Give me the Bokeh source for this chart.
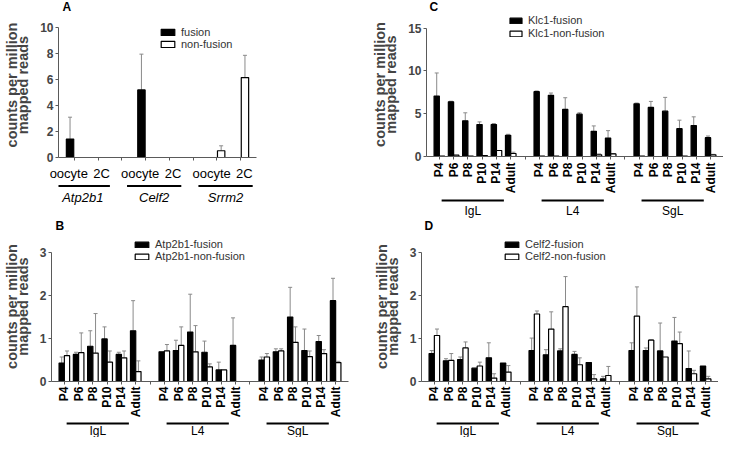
import math
from bokeh.plotting import figure
from bokeh.models import (ColumnDataSource, FactorRange, Range1d, FixedTicker,
                          Legend, LegendItem, Whisker, TeeHead, CustomJSTickFormatter)
from bokeh.transform import dodge
from bokeh.layouts import column, row
from bokeh.embed import file_html
from bokeh.resources import INLINE
from bokeh.core.properties import value

FONT = "Liberation Sans"
YLABEL = "counts per million\nmapped reads"

# ---------------- Panel A data ----------------
a_genes = ["Atp2b1", "Celf2", "Srrm2"]
a_stages = ["oocyte", "2C"]
a_fusion = [1.42, 0.0, 5.2, 0.0, 0.0, 0.0]
a_fusion_err = [3.1, 0.0, 7.95, 0.0, 0.0, 0.0]
a_nonfusion = [0.0, 0.0, 0.0, 0.0, 0.52, 6.15]
a_nonfusion_err = [0.0, 0.0, 0.0, 0.0, 0.9, 7.86]
a_yticks = [0, 2, 4, 6, 8, 10]

# ---------------- Panels B, C, D ----------------
regions = ["IgL", "L4", "SgL"]
ages = ["P4", "P6", "P8", "P10", "P14", "Adult"]

b_fusion = [0.43, 0.63, 0.82, 0.99, 0.63, 1.18,
            0.69, 0.72, 1.15, 0.68, 0.27, 0.84,
            0.50, 0.69, 1.50, 0.72, 0.93, 1.88]
b_fusion_err = [0.57, 0.68, 1.18, 1.27, 0.68, 1.88,
                0.69, 0.96, 2.03, 0.94, 0.45, 1.48,
                0.57, 0.76, 2.19, 1.22, 1.07, 2.40]
b_nonfusion = [0.60, 0.67, 0.66, 0.45, 0.55, 0.23,
               0.71, 0.84, 0.69, 0.34, 0.27, 0.00,
               0.57, 0.71, 0.91, 0.58, 0.65, 0.44]
b_nonfusion_err = [0.71, 1.13, 1.58, 0.71, 0.71, 0.48,
                   0.86, 1.27, 1.30, 0.41, 0.27, 0.00,
                   0.65, 0.76, 1.27, 0.71, 0.74, 0.47]
b_yticks = [0, 1, 2, 3]

c_fusion = [7.05, 6.39, 4.16, 3.73, 3.73, 2.47,
            7.57, 7.14, 5.49, 4.94, 2.94, 2.16,
            6.16, 5.73, 5.29, 3.25, 3.61, 2.20]
c_fusion_err = [9.75, 6.45, 5.10, 4.04, 3.85, 2.59,
                7.65, 7.41, 6.86, 5.10, 3.57, 3.02,
                6.24, 6.43, 6.90, 4.24, 4.63, 2.39]
c_nonfusion = [0.05, 0.15, 0.05, 0.10, 0.70, 0.35,
               0.05, 0.05, 0.00, 0.00, 0.20, 0.30,
               0.05, 0.00, 0.00, 0.05, 0.00, 0.20]
c_nonfusion_err = [0.05, 0.15, 0.05, 0.10, 0.70, 0.50,
                   0.05, 0.05, 0.00, 0.00, 0.30, 0.35,
                   0.05, 0.00, 0.00, 0.05, 0.00, 0.25]
c_yticks = [0, 5, 10, 15]

d_fusion = [0.65, 0.48, 0.51, 0.31, 0.55, 0.43,
            0.72, 0.62, 0.71, 0.63, 0.44, 0.06,
            0.72, 0.72, 0.71, 0.94, 0.30, 0.36]
d_fusion_err = [0.72, 0.53, 0.57, 0.31, 0.90, 0.43,
                1.01, 0.74, 0.76, 0.70, 0.44, 0.12,
                0.90, 0.78, 1.36, 1.49, 0.71, 0.36]
d_nonfusion = [1.07, 0.49, 0.78, 0.36, 0.08, 0.22,
               1.57, 1.22, 1.74, 0.39, 0.06, 0.14,
               1.52, 0.96, 0.57, 0.88, 0.18, 0.06]
d_nonfusion_err = [1.22, 0.65, 0.92, 0.45, 0.18, 0.37,
                   1.64, 1.62, 2.44, 0.55, 0.16, 0.35,
                   2.20, 0.97, 0.57, 1.15, 0.26, 0.12]
d_yticks = [0, 1, 2, 3]

AXIS_COLOR = "#5a5a5a"
ERR_COLOR = "#8a8a8a"
HEADER_H = 12

LABEL_JS = """
if (tick.startsWith('gap')) { return ''; }
var lab = tick.substring(tick.indexOf('|') + 1);
if (lab == 'oocyte') { return lab + '\\u00a0\\u00a0\\u00a0'; }
if (lab == '2C') { return '\\u00a0\\u00a0' + lab; }
return lab;
"""


def build_factors(groups, members):
    factors, keys = [], []
    for gi, g in enumerate(groups):
        if gi > 0:
            factors.append("gap%d" % gi)
        for m in members:
            k = "%s|%s" % (g, m)
            factors.append(k)
            keys.append(k)
    return factors, keys


def bare(fig):
    fig.outline_line_color = None
    fig.grid.grid_line_color = None
    fig.background_fill_color = "white"
    fig.border_fill_color = "white"


def panel(letter, groups, members, fus, fus_e, non, non_e, yticks, leg_labels,
          b_left, frame_w, b_right, pad, tick_top, zero_y, b_bottom, sub_h,
          bar_w, off, orient, tick_size, tick_style, tick_standoff,
          leg_loc, glyph_w, glyph_h, leg_spacing,
          line_offs, text_off, text_member, line_px, text_px, grp_size, grp_style, letter_pad):
    # tick_top / zero_y: pixel offsets below the top of the panel's header strip
    factors, keys = build_factors(groups, members)
    xr = FactorRange(factors=factors, range_padding=pad, range_padding_units="absolute")
    frame_h = zero_y - HEADER_H
    ytop = yticks[-1] * frame_h / (zero_y - tick_top)
    width = b_left + frame_w + b_right

    # header strip with the panel letter
    h = figure(x_range=Range1d(0, width), y_range=Range1d(0, HEADER_H),
               frame_width=width, frame_height=HEADER_H, output_backend="svg",
               toolbar_location=None, x_axis_location=None, y_axis_location=None,
               min_border_left=0, min_border_right=0, min_border_top=0, min_border_bottom=0)
    bare(h)
    h.text(x=[letter_pad], y=[HEADER_H - 6], text=[letter], text_align="left",
           text_baseline="middle", text_font=value(FONT), text_font_size="12px",
           text_font_style="bold", text_color="black")

    p = figure(x_range=xr, y_range=Range1d(0, ytop), frame_width=frame_w, frame_height=frame_h,
               output_backend="svg", toolbar_location=None, title=None,
               min_border_left=b_left, min_border_right=b_right,
               min_border_top=0, min_border_bottom=b_bottom)
    bare(p)

    def src(vals, errs, cond):
        d = dict(x=[], top=[], err=[])
        for k, v, e in zip(keys, vals, errs):
            if cond(v, e):
                d["x"].append(k)
                d["top"].append(v)
                d["err"].append(e)
        return ColumnDataSource(d)

    renders = []
    for vals, errs, fill, o in ((fus, fus_e, "black", -off), (non, non_e, "white", off)):
        ws = src(vals, errs, lambda v, e: e > v)
        wk = Whisker(source=ws, base=dodge("x", o, range=xr), upper="err", lower="top",
                     dimension="height", line_color=ERR_COLOR, line_width=1,
                     upper_head=TeeHead(size=4, line_color=ERR_COLOR, line_width=1),
                     lower_head=None, level="underlay")
        p.add_layout(wk)
        r = p.vbar(x=dodge("x", o, range=xr), top="top", bottom=0, width=bar_w,
                   source=src(vals, errs, lambda v, e: v > 0),
                   fill_color=fill, line_color="black", line_width=1.2)
        renders.append(r)

    legend = Legend(items=[LegendItem(label=leg_labels[0], renderers=[renders[0]]),
                           LegendItem(label=leg_labels[1], renderers=[renders[1]])],
                    location=leg_loc, orientation="vertical",
                    border_line_color=None, background_fill_alpha=0,
                    padding=0, margin=0, spacing=leg_spacing,
                    glyph_width=glyph_w, glyph_height=glyph_h, label_height=12,
                    label_standoff=5, label_text_font=FONT, label_text_font_size="11px",
                    label_text_color="#333333")
    p.add_layout(legend, "center")

    ya = p.yaxis[0]
    ya.ticker = FixedTicker(ticks=yticks)
    ya.bounds = (yticks[0], yticks[-1])
    ya.axis_label = YLABEL
    ya.axis_label_text_font = FONT
    ya.axis_label_text_font_size = "14.5px"
    ya.axis_label_text_font_style = "bold"
    ya.axis_label_text_line_height = 0.7
    ya.axis_label_standoff = 6
    ya.major_label_text_font = FONT
    ya.major_label_text_font_size = "12px"
    ya.major_label_text_font_style = "bold"
    ya.major_label_standoff = 2
    ya.major_tick_out = 3
    ya.major_tick_in = 0
    ya.minor_tick_line_color = None
    ya.axis_line_color = AXIS_COLOR
    ya.major_tick_line_color = AXIS_COLOR

    xa = p.xaxis[0]
    xa.formatter = CustomJSTickFormatter(code=LABEL_JS)
    xa.major_label_orientation = orient
    xa.major_label_text_font = FONT
    xa.major_label_text_font_size = tick_size
    xa.major_label_text_font_style = tick_style
    xa.major_label_text_color = "black"
    xa.major_label_standoff = tick_standoff
    xa.major_tick_out = 3
    xa.major_tick_in = 0
    xa.axis_line_color = AXIS_COLOR
    xa.major_tick_line_color = AXIS_COLOR

    # group underline + labels, sharing the x range
    s = figure(x_range=xr, y_range=Range1d(0, sub_h), frame_width=frame_w, frame_height=sub_h,
               output_backend="svg", toolbar_location=None,
               x_axis_location=None, y_axis_location=None,
               min_border_left=b_left, min_border_right=b_right,
               min_border_top=0, min_border_bottom=0)
    bare(s)
    gs = ColumnDataSource(dict(
        first=["%s|%s" % (g, members[0]) for g in groups],
        last=["%s|%s" % (g, members[-1]) for g in groups],
        mid=["%s|%s" % (g, text_member) for g in groups],
        name=groups,
        ly=[sub_h - line_px] * len(groups),
        ty=[sub_h - text_px] * len(groups)))
    s.segment(x0=dodge("first", line_offs[0], range=xr), x1=dodge("last", line_offs[1], range=xr),
              y0="ly", y1="ly", source=gs, line_color="black", line_width=2)
    s.text(x=dodge("mid", text_off, range=xr), y="ty", text="name", source=gs,
           text_align="center", text_baseline="middle", text_font=value(FONT),
           text_font_size=grp_size, text_font_style=grp_style, text_color="black")
    return column(h, p, s)


pA = panel("A", a_genes, a_stages, a_fusion, a_fusion_err, a_nonfusion, a_nonfusion_err,
           a_yticks, ["fusion", "non-fusion"],
           b_left=52, frame_w=198, b_right=112, pad=0.16, tick_top=27, zero_y=157,
           b_bottom=27, sub_h=34,
           bar_w=0.31, off=0.175, orient="horizontal", tick_size="13px", tick_style="normal",
           tick_standoff=5, leg_loc=(101, 107), glyph_w=17, glyph_h=8, leg_spacing=0,
           line_offs=(-0.78, 0.5), text_off=0.36, text_member="oocyte",
           line_px=1.5, text_px=13, grp_size="13px", grp_style="italic", letter_pad=4)

pC = panel("C", regions, ages, c_fusion, c_fusion_err, c_nonfusion, c_nonfusion_err,
           c_yticks, ["Klc1-fusion", "Klc1-non-fusion"],
           b_left=58, frame_w=297, b_right=0, pad=0.4, tick_top=27.5, zero_y=156,
           b_bottom=39, sub_h=23,
           bar_w=0.37, off=0.185, orient=math.pi / 2, tick_size="12px", tick_style="bold",
           tick_standoff=3, leg_loc=(82, 117), glyph_w=15, glyph_h=7, leg_spacing=1,
           line_offs=(0.16, -0.48), text_off=0.34, text_member="P8",
           line_px=4, text_px=14, grp_size="12px", grp_style="normal", letter_pad=3)

pB = panel("B", regions, ages, b_fusion, b_fusion_err, b_nonfusion, b_nonfusion_err,
           b_yticks, ["Atp2b1-fusion", "Atp2b1-non-fusion"],
           b_left=50, frame_w=297, b_right=15, pad=0.4, tick_top=33, zero_y=162,
           b_bottom=39, sub_h=17,
           bar_w=0.37, off=0.185, orient=math.pi / 2, tick_size="12px", tick_style="bold",
           tick_standoff=2, leg_loc=(82, 119), glyph_w=17, glyph_h=7, leg_spacing=0,
           line_offs=(0.16, -0.48), text_off=0.34, text_member="P8",
           line_px=3, text_px=10.5, grp_size="12px", grp_style="normal", letter_pad=4)

pD = panel("D", regions, ages, d_fusion, d_fusion_err, d_nonfusion, d_nonfusion_err,
           d_yticks, ["Celf2-fusion", "Celf2-non-fusion"],
           b_left=58, frame_w=297, b_right=0, pad=0.4, tick_top=33, zero_y=162,
           b_bottom=39, sub_h=17,
           bar_w=0.37, off=0.185, orient=math.pi / 2, tick_size="12px", tick_style="bold",
           tick_standoff=2, leg_loc=(82, 119), glyph_w=17, glyph_h=7, leg_spacing=0,
           line_offs=(0.16, -0.48), text_off=0.34, text_member="P8",
           line_px=3, text_px=10.5, grp_size="12px", grp_style="normal", letter_pad=3)

layout = column(row(pA, pC), row(pB, pD))
open("out.html", "w").write(file_html(layout, INLINE))
